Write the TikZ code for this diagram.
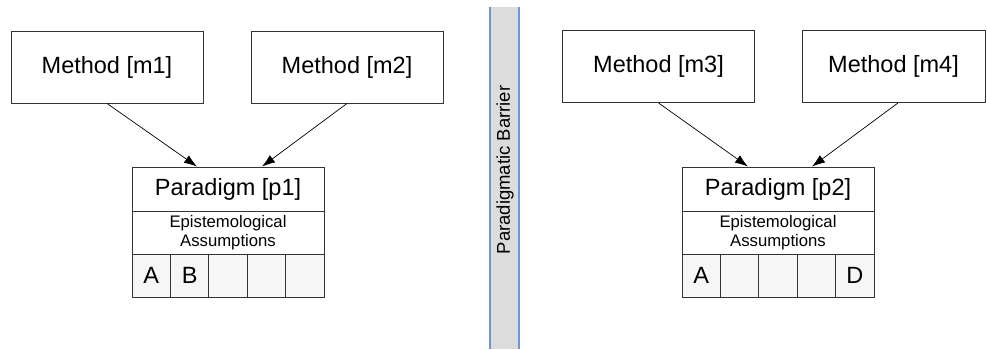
\documentclass[tikz,border=0pt]{standalone}
\usepackage{fontspec}
\setmainfont{Liberation Sans}
\usetikzlibrary{arrows.meta}
\definecolor{linec}{HTML}{333333}
\definecolor{barfill}{HTML}{DCDCDC}
\definecolor{baredge}{HTML}{6F96D4}
\definecolor{cellfill}{HTML}{F6F6F6}
\begin{document}
\begin{tikzpicture}[x=1pt,y=-1pt,
  bigfont/.style={font=\fontsize{23.5}{28}\selectfont},
  smallfont/.style={font=\fontsize{16.7}{19.5}\selectfont},
  methodbox/.style={draw=linec, line width=0.9pt, fill=white, minimum width=192pt,
    minimum height=72pt, inner sep=0pt, bigfont},
  titlebox/.style={draw=linec, line width=0.9pt, fill=white, minimum width=192pt,
    minimum height=44pt, inner sep=0pt, bigfont},
  assumbox/.style={draw=linec, line width=0.9pt, fill=white, minimum width=192pt,
    minimum height=43pt, inner sep=0pt, smallfont, align=center},
  cellbox/.style={draw=linec, line width=0.9pt, fill=cellfill, minimum width=38.4pt,
    minimum height=43pt, inner sep=0pt, bigfont},
  link/.style={draw=black, line width=0.7pt, -{Latex[length=13pt,width=9pt]}}]
\useasboundingbox (0,0) rectangle (987,349);
\fill[white] (0,0) rectangle (987,349);

% barrier between the two paradigms
\fill[barfill] (490,7) rectangle (519,349);
\draw[baredge, line width=1.2pt] (490,7) -- (490,349);
\draw[baredge, line width=1.2pt] (519,7) -- (519,349);
\node[rotate=90, font=\fontsize{18.5}{21}\selectfont] (barrier) at (505,170) {Paradigmatic Barrier};

% methods
\node[methodbox] (m1) at (107,67) {Method [m1]};
\node[methodbox] (m2) at (347,67) {Method [m2]};
\node[methodbox] (m3) at (658.5,66.5) {Method [m3]};
\node[methodbox, minimum width=183pt] (m4) at (893.5,66.5) {Method [m4]};

% paradigm p1
\node[titlebox] (p1) at (228,189) {Paradigm [p1]};
\node[assumbox] (e1) at (228,232.5) {Epistemological\\Assumptions};
\foreach \i/\t in {0/A,1/B,2/,3/,4/} {
  \node[cellbox] (p1c\i) at (151.2+38.4*\i,275.5) {\t};
}

% paradigm p2
\node[titlebox] (p2) at (778,189) {Paradigm [p2]};
\node[assumbox] (e2) at (778,232.5) {Epistemological\\Assumptions};
\foreach \i/\t in {0/A,1/,2/,3/,4/D} {
  \node[cellbox] (p2c\i) at (701.2+38.4*\i,275.5) {\t};
}

% methods feeding paradigms
\draw[link] (m1.south) -- ([xshift=-31pt]p1.north);
\draw[link] (m2.south) -- ([xshift=34pt]p1.north);
\draw[link] (m3.south) -- ([xshift=-30pt]p2.north);
\draw[link] ([xshift=4.5pt]m4.south) -- ([xshift=34pt]p2.north);
\end{tikzpicture}
\end{document}
